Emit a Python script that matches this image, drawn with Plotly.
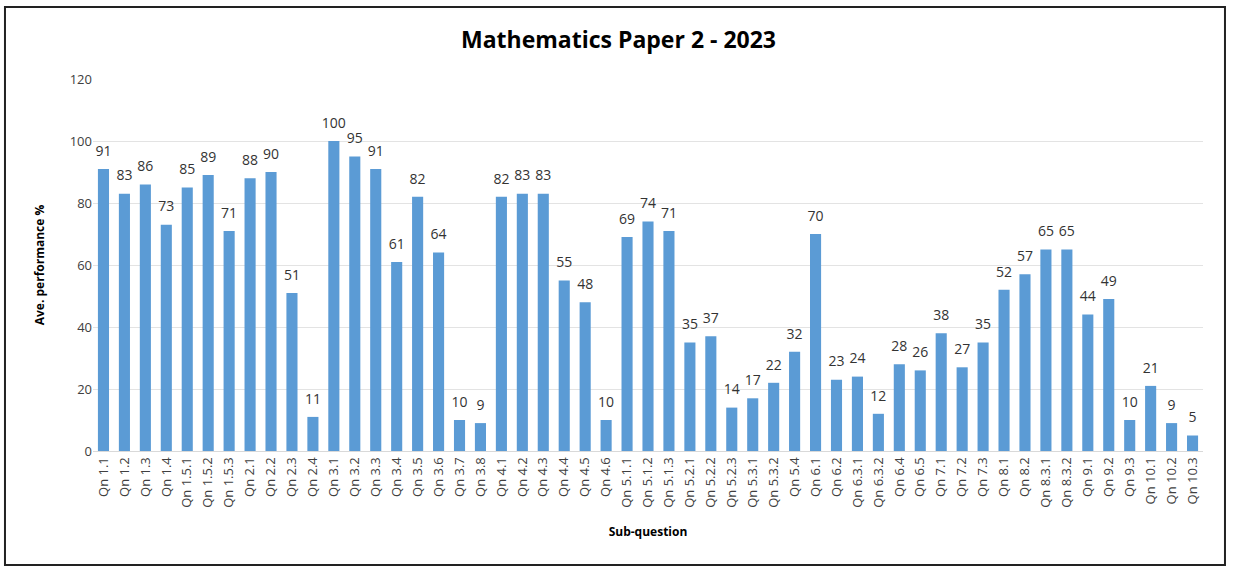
import plotly.graph_objects as go

categories = ["Qn 1.1", "Qn 1.2", "Qn 1.3", "Qn 1.4", "Qn 1.5.1", "Qn 1.5.2", "Qn 1.5.3",
              "Qn 2.1", "Qn 2.2", "Qn 2.3", "Qn 2.4",
              "Qn 3.1", "Qn 3.2", "Qn 3.3", "Qn 3.4", "Qn 3.5", "Qn 3.6", "Qn 3.7", "Qn 3.8",
              "Qn 4.1", "Qn 4.2", "Qn 4.3", "Qn 4.4", "Qn 4.5", "Qn 4.6",
              "Qn 5.1.1", "Qn 5.1.2", "Qn 5.1.3", "Qn 5.2.1", "Qn 5.2.2", "Qn 5.2.3",
              "Qn 5.3.1", "Qn 5.3.2", "Qn 5.4",
              "Qn 6.1", "Qn 6.2", "Qn 6.3.1", "Qn 6.3.2", "Qn 6.4", "Qn 6.5",
              "Qn 7.1", "Qn 7.2", "Qn 7.3",
              "Qn 8.1", "Qn 8.2", "Qn 8.3.1", "Qn 8.3.2",
              "Qn 9.1", "Qn 9.2", "Qn 9.3",
              "Qn 10.1", "Qn 10.2", "Qn 10.3"]
performance = [91, 83, 86, 73, 85, 89, 71,
               88, 90, 51, 11,
               100, 95, 91, 61, 82, 64, 10, 9,
               82, 83, 83, 55, 48, 10,
               69, 74, 71, 35, 37, 14, 17, 22, 32,
               70, 23, 24, 12, 28, 26,
               38, 27, 35,
               52, 57, 65, 65,
               44, 49, 10,
               21, 9, 5]
y_ticks = [0, 20, 40, 60, 80, 100, 120]

font_family = "Open Sans, Liberation Sans, Arial, sans-serif"

fig = go.Figure()
fig.add_trace(go.Bar(
    x=categories,
    y=performance,
    marker=dict(color="#5b9bd5", line=dict(width=0)),
    hoverinfo="x+y",
))
fig.add_trace(go.Scatter(
    x=categories,
    y=performance,
    mode="markers+text",
    marker=dict(size=14, color="rgba(0,0,0,0)"),
    text=[str(v) for v in performance],
    textposition="top center",
    textfont=dict(size=14, color="#333333", family=font_family),
    cliponaxis=False,
    hoverinfo="skip",
))

fig.update_layout(
    width=1237, height=568,
    paper_bgcolor="white", plot_bgcolor="white",
    margin=dict(l=93, r=34, t=79, b=117),
    bargap=0.47,
    showlegend=False,
    font=dict(family=font_family, color="#404040"),
    title=dict(text="<b>Mathematics Paper 2 - 2023</b>", x=0.5, xanchor="center",
               y=0.93, yanchor="middle",
               font=dict(size=23, color="#000000", family=font_family)),
    xaxis=dict(
        range=[-0.5, len(categories) - 0.5],
        tickangle=-90,
        tickfont=dict(size=13, color="#404040"),
        title=dict(text="<b>Sub-question</b>", font=dict(size=12, color="#000000"), standoff=20),
        showline=True, linecolor="#d9d9d9", linewidth=1,
        ticks="", showgrid=False,
    ),
    yaxis=dict(
        range=[0, 120],
        tickvals=y_ticks,
        tickfont=dict(size=13, color="#404040"),
        title=dict(text="<b>Ave. performance %</b>", font=dict(size=12, color="#000000"), standoff=22),
        showgrid=True, gridcolor="#e3e3e3", gridwidth=1,
        zeroline=False, showline=False, ticks="",
    ),
    shapes=[dict(type="rect", xref="paper", yref="paper",
                 x0=-0.0793, x1=1.0198, y0=-0.3065, y1=1.1935,
                 line=dict(color="#222222", width=2), fillcolor="rgba(0,0,0,0)",
                 layer="below")],
)

fig.write_html("out.html")
